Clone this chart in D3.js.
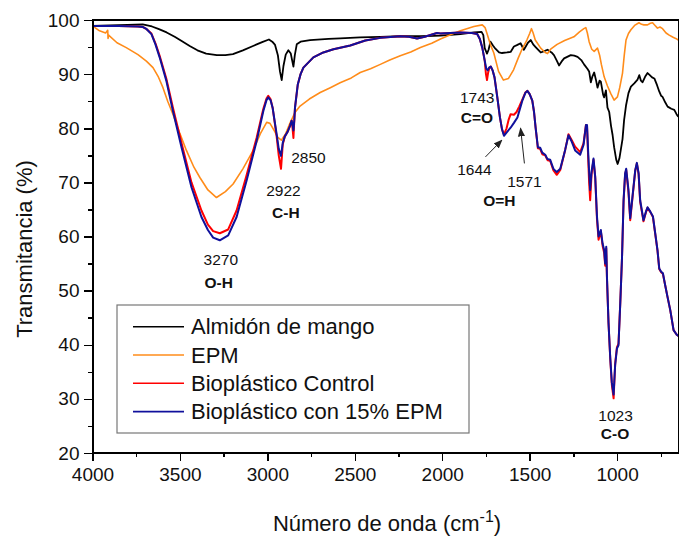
<!DOCTYPE html>
<meta charset="utf-8">
<style>
    body { margin: 0; background: #fff; }
    svg { font-family: "Liberation Sans", Arial, sans-serif; }
    .axis path, .axis line { fill: none; stroke: #000; stroke-width: 1.5; shape-rendering: crispEdges; }
    .axis text { fill: #111; font-size: 19px; }
    .peak { fill: #111; font-size: 15.5px; }
    .peak.bold { font-weight: bold; }
</style>
<body>
<script src="https://d3js.org/d3.v7.min.js"></script>
<script>

    // ticks
    var xTicks = [4000, 3500, 3000, 2500, 2000, 1500, 1000];
    var xMinor = [3750, 3250, 2750, 2250, 1750, 1250, 750];
    var yTicks = [20, 30, 40, 50, 60, 70, 80, 90, 100];
    var yMinor = [25, 35, 45, 55, 65, 75, 85, 95];

    var seriesNames = ["Almidón de mango", "EPM", "Bioplástico Control", "Bioplástico con 15% EPM"];
    var seriesColors = ["#000000", "#ff8c1a", "#ff0000", "#10109c"];

    // [numero de onda, transmitancia]
    var almidon = [
        [4000, 98.9], [3900, 99.0], [3800, 99.1], [3713, 99.2], [3660, 98.8], [3620, 98.3], [3576, 97.7], [3530, 96.9],
        [3490, 96.1], [3444, 95.2], [3400, 94.4], [3350, 93.8], [3289, 93.5], [3240, 93.5], [3197, 93.7], [3140, 94.4],
        [3082, 95.2], [3030, 95.9], [2991, 96.4], [2972, 96.0], [2956, 95.4], [2940, 93.5], [2928, 90.5], [2918, 88.9],
        [2908, 91.5], [2895, 93.6], [2880, 94.4], [2866, 93.8], [2858, 92.5], [2851, 91.4], [2843, 93.5], [2832, 95.5],
        [2810, 96.0], [2756, 96.3], [2650, 96.5], [2584, 96.6], [2470, 96.8], [2354, 96.9], [2240, 97.0], [2125, 97.0],
        [2010, 97.1], [1896, 97.4], [1819, 97.7], [1775, 97.8], [1765, 97.2], [1757, 94.8], [1744, 93.8], [1735, 94.5],
        [1724, 96.0], [1710, 95.3], [1696, 94.7], [1675, 94.0], [1658, 93.9], [1630, 94.0], [1609, 94.1], [1590, 95.1],
        [1570, 95.4], [1552, 95.7], [1533, 94.5], [1510, 95.8], [1494, 96.3], [1480, 95.5], [1466, 95.0], [1437, 94.0],
        [1420, 94.2], [1398, 94.5], [1375, 94.0], [1361, 93.5], [1345, 92.5], [1332, 91.6], [1318, 92.3], [1303, 92.9],
        [1265, 93.5], [1245, 93.4], [1226, 93.2], [1205, 92.6], [1189, 91.8], [1170, 91.0], [1160, 90.5], [1150, 88.5],
        [1141, 89.6], [1131, 90.3], [1120, 88.8], [1112, 87.5], [1100, 88.8], [1093, 88.6], [1080, 86.2], [1074, 85.7],
        [1064, 87.0], [1055, 83.8], [1045, 83.0], [1035, 80.5], [1026, 78.8], [1017, 76.5], [1005, 74.2], [997, 73.4],
        [987, 74.4], [978, 76.2], [969, 78.0], [960, 81.5], [949, 84.2], [935, 86.5], [921, 87.7], [902, 88.3],
        [883, 89.0], [873, 89.8], [864, 88.8], [854, 88.5], [840, 89.5], [826, 90.2], [816, 89.9], [800, 89.4],
        [787, 89.2], [772, 88.0], [759, 86.8], [748, 86.0], [740, 85.8], [725, 84.8], [711, 84.0], [690, 83.6],
        [673, 83.4], [660, 82.6], [650, 82.1]
    ];

    var epm = [
        [4000, 98.9], [3960, 98.0], [3925, 97.6], [3913, 98.1], [3911, 96.6], [3908, 97.2], [3860, 95.8], [3807, 94.9],
        [3740, 93.6], [3692, 92.4], [3654, 91.2], [3625, 89.6], [3597, 87.5], [3570, 85.0], [3540, 82.6], [3500, 79.0],
        [3463, 75.9], [3420, 72.8], [3386, 70.9], [3340, 68.6], [3291, 67.2], [3240, 68.3], [3196, 69.7], [3140, 72.5],
        [3081, 75.9], [3040, 79.0], [3004, 81.1], [2985, 80.9], [2960, 79.5], [2940, 78.3], [2920, 77.8], [2895, 79.0],
        [2870, 81.0], [2842, 82.9], [2813, 84.1], [2760, 85.4], [2698, 86.6], [2640, 87.5], [2584, 88.4], [2520, 89.3],
        [2469, 90.3], [2410, 91.0], [2354, 91.8], [2300, 92.6], [2240, 93.4], [2180, 94.1], [2125, 94.9], [2060, 95.7],
        [2010, 96.5], [1950, 97.3], [1896, 98.0], [1819, 98.8], [1771, 99.1], [1755, 98.6], [1744, 97.5], [1725, 95.5],
        [1705, 93.9], [1678, 90.5], [1650, 88.9], [1621, 89.2], [1592, 90.8], [1565, 93.0], [1545, 94.5], [1516, 96.3],
        [1500, 97.5], [1490, 98.4], [1480, 97.6], [1468, 96.3], [1437, 94.8], [1411, 94.0], [1398, 93.8], [1380, 94.6],
        [1343, 95.5], [1300, 96.2], [1247, 96.9], [1215, 97.8], [1190, 98.4], [1179, 98.6], [1170, 97.6], [1160, 96.0],
        [1145, 94.6], [1131, 94.2], [1112, 94.8], [1100, 93.5], [1090, 91.8], [1074, 89.5], [1055, 87.8], [1036, 86.4],
        [1017, 85.2], [998, 85.8], [985, 87.5], [969, 90.2], [959, 93.5], [949, 96.3], [935, 97.5], [921, 98.2],
        [900, 99.0], [875, 99.5], [860, 99.2], [847, 99.1], [826, 99.1], [810, 99.4], [797, 99.5], [783, 99.0],
        [769, 98.5], [755, 98.7], [740, 98.4], [720, 97.6], [702, 97.2], [680, 96.8], [665, 96.6], [650, 96.3]
    ];

    var bioControl = [
        [4000, 98.9], [3850, 98.9], [3740, 98.8], [3711, 98.7], [3690, 98.3], [3663, 97.5], [3640, 95.7], [3616, 93.4],
        [3578, 89.2], [3540, 83.8], [3491, 77.3], [3434, 70.0], [3377, 64.8], [3340, 62.2], [3310, 61.0], [3272, 60.6],
        [3224, 61.3], [3176, 64.8], [3119, 71.3], [3061, 78.3], [3023, 83.6], [3005, 85.5], [2995, 86.0], [2982, 85.4],
        [2970, 83.8], [2947, 78.5], [2935, 75.0], [2922, 72.5], [2912, 77.0], [2900, 78.5], [2885, 79.3], [2870, 80.5],
        [2861, 81.4], [2856, 80.0], [2851, 78.2], [2846, 81.5], [2842, 83.8], [2826, 88.1], [2810, 90.0], [2794, 91.2],
        [2737, 93.1], [2680, 94.0], [2622, 94.6], [2526, 95.3], [2440, 96.2], [2354, 96.7], [2240, 97.0], [2190, 96.9],
        [2144, 96.6], [2100, 96.9], [2030, 97.6], [2010, 97.5], [1896, 97.7], [1830, 97.6], [1800, 97.4], [1785, 96.5],
        [1771, 94.9], [1757, 92.5], [1750, 90.0], [1744, 88.9], [1738, 90.2], [1730, 91.2], [1722, 91.4], [1712, 90.7],
        [1701, 89.4], [1685, 85.7], [1670, 82.0], [1658, 79.8], [1647, 78.8], [1632, 80.0], [1620, 81.6], [1609, 82.6],
        [1590, 82.5], [1575, 83.0], [1560, 84.0], [1542, 85.3], [1525, 86.6], [1513, 86.9], [1500, 86.3], [1485, 85.1],
        [1475, 83.0], [1466, 80.1], [1453, 76.3], [1440, 76.2], [1428, 75.2], [1411, 75.0], [1398, 74.1], [1383, 74.0],
        [1364, 72.2], [1345, 71.4], [1325, 72.3], [1297, 76.0], [1278, 78.9], [1259, 77.8], [1240, 76.6], [1211, 75.6],
        [1192, 77.2], [1178, 80.6], [1172, 80.4], [1166, 75.0], [1160, 70.0], [1154, 66.7], [1146, 71.5], [1135, 74.2],
        [1125, 70.8], [1115, 63.2], [1106, 59.4], [1093, 61.0], [1083, 58.3], [1074, 57.0], [1068, 54.6], [1062, 57.8],
        [1058, 52.3], [1049, 44.0], [1039, 37.3], [1030, 32.6], [1020, 30.1], [1011, 36.5], [1001, 39.5], [992, 40.2],
        [982, 47.6], [972, 56.0], [963, 66.5], [954, 71.5], [948, 72.3], [935, 68.2], [925, 63.0], [910, 67.8],
        [896, 72.2], [887, 73.5], [877, 71.5], [868, 66.4], [849, 62.8], [835, 64.5], [826, 65.3], [810, 64.5],
        [795, 63.6], [782, 60.5], [769, 57.4], [759, 54.0], [748, 53.4], [738, 53.1], [725, 51.0], [712, 48.9],
        [696, 46.4], [677, 42.7], [660, 41.9], [650, 41.6]
    ];

    var bio15 = [
        [4000, 98.9], [3850, 98.9], [3740, 98.8], [3711, 98.7], [3690, 98.3], [3663, 97.4], [3640, 95.5], [3616, 93.1],
        [3578, 88.8], [3540, 83.2], [3491, 76.5], [3434, 69.1], [3377, 63.6], [3340, 61.2], [3310, 59.8], [3272, 59.3],
        [3224, 60.2], [3176, 63.6], [3119, 70.3], [3061, 77.7], [3023, 83.2], [3005, 85.2], [2995, 85.7], [2982, 85.2],
        [2970, 83.8], [2947, 78.9], [2935, 76.2], [2922, 74.9], [2912, 77.3], [2900, 78.5], [2885, 79.3], [2870, 80.5],
        [2861, 81.4], [2856, 80.6], [2851, 79.6], [2846, 81.5], [2842, 83.8], [2826, 88.1], [2810, 90.0], [2794, 91.2],
        [2737, 93.1], [2680, 94.0], [2622, 94.6], [2526, 95.3], [2440, 96.2], [2354, 96.7], [2240, 97.0], [2190, 96.9],
        [2144, 96.6], [2100, 96.9], [2030, 97.6], [2010, 97.5], [1896, 97.7], [1830, 97.6], [1800, 97.4], [1785, 96.5],
        [1771, 94.9], [1757, 92.5], [1748, 91.0], [1740, 90.7], [1732, 91.2], [1722, 91.4], [1712, 90.7], [1701, 89.4],
        [1685, 85.7], [1670, 82.0], [1658, 79.8], [1647, 78.6], [1630, 79.3], [1609, 80.1], [1590, 81.0], [1570, 82.0],
        [1542, 85.1], [1525, 86.5], [1513, 86.9], [1500, 86.3], [1485, 85.1], [1475, 83.0], [1466, 80.1], [1453, 76.5],
        [1440, 76.4], [1428, 75.5], [1411, 75.1], [1398, 74.3], [1383, 74.2], [1364, 72.5], [1345, 71.9], [1325, 72.5],
        [1297, 76.0], [1278, 78.7], [1259, 77.5], [1240, 75.9], [1211, 75.1], [1192, 76.9], [1178, 80.6], [1172, 80.6],
        [1166, 76.0], [1160, 72.0], [1154, 68.6], [1146, 72.0], [1135, 74.4], [1125, 71.0], [1115, 63.7], [1106, 60.0],
        [1093, 61.2], [1083, 58.7], [1074, 57.5], [1068, 55.0], [1062, 58.1], [1058, 52.6], [1049, 44.0], [1039, 37.5],
        [1030, 33.0], [1020, 30.8], [1011, 36.3], [1001, 39.3], [992, 39.9], [982, 47.6], [972, 56.0], [963, 66.7],
        [954, 71.7], [948, 72.5], [935, 68.6], [925, 63.4], [910, 68.0], [896, 72.3], [887, 73.6], [877, 71.7],
        [868, 66.7], [849, 63.0], [835, 64.6], [826, 65.4], [810, 64.6], [795, 63.7], [782, 60.6], [769, 57.5],
        [759, 54.1], [748, 53.5], [738, 53.2], [725, 51.0], [712, 48.9], [696, 46.4], [677, 42.7], [660, 41.9],
        [650, 41.6]
    ];

    // etiquetas de picos [texto, numero de onda, transmitancia, negrita]
    var peakLabels = [
        ["3270", 3266, 55.7, false], ["O-H", 3278, 51.6, true],
        ["2922", 2908, 68.5, false], ["C-H", 2894, 64.4, true],
        ["2850", 2765, 74.7, false],
        ["1743", 1800, 85.7, false], ["C=O", 1802, 82.0, true],
        ["1644", 1816, 72.4, false], ["1571", 1530, 70.1, false], ["O=H", 1673, 66.6, true],
        ["1023", 1009, 27.0, false], ["C-O", 1012, 23.7, true]
    ];

    // flechas [desde, hasta]
    var peakArrows = [
        [[1753, 74.7], [1659, 77.8]],
        [[1530, 73.5], [1552, 80.0]]
    ];

    var width = 688, height = 537;
    var plot = { left: 92.5, right: 678.3, top: 20, bottom: 453 };

    var x = d3.scaleLinear().domain([4000, 650]).range([plot.left, plot.right]);
    var y = d3.scaleLinear().domain([20, 100]).range([plot.bottom, plot.top]);

    var svg = d3.select("body").append("svg")
        .attr("width", width)
        .attr("height", height);

    svg.append("rect").attr("width", width).attr("height", height).attr("fill", "#fff");

    svg.append("defs").append("clipPath").attr("id", "clip")
        .append("rect")
        .attr("x", plot.left).attr("y", plot.top)
        .attr("width", plot.right - plot.left).attr("height", plot.bottom - plot.top);

    // lineas
    var line = d3.line()
        .x(function (d) { return x(d[0]); })
        .y(function (d) { return y(d[1]); });

    var allSeries = [almidon, epm, bioControl, bio15];
    var widths = [1.8, 1.6, 2, 2];

    svg.append("g").attr("clip-path", "url(#clip)")
        .selectAll("path")
        .data(allSeries)
        .enter().append("path")
        .attr("d", line)
        .attr("fill", "none")
        .attr("stroke", function (d, i) { return seriesColors[i]; })
        .attr("stroke-width", function (d, i) { return widths[i]; })
        .attr("stroke-linejoin", "round");

    // ejes
    svg.append("g")
        .attr("class", "axis")
        .attr("transform", "translate(0," + plot.bottom + ")")
        .call(d3.axisBottom(x).tickValues(xTicks).tickSize(8).tickSizeOuter(0).tickPadding(7).tickFormat(d3.format("d")));

    svg.append("g")
        .attr("class", "axis")
        .attr("transform", "translate(0," + plot.bottom + ")")
        .call(d3.axisBottom(x).tickValues(xMinor).tickSize(4).tickFormat(""))
        .select(".domain").remove();

    svg.append("g")
        .attr("class", "axis")
        .attr("transform", "translate(" + plot.left + ",0)")
        .call(d3.axisLeft(y).tickValues(yTicks).tickSize(9).tickSizeOuter(0).tickPadding(4));

    svg.append("g")
        .attr("class", "axis")
        .attr("transform", "translate(" + plot.left + ",0)")
        .call(d3.axisLeft(y).tickValues(yMinor).tickSize(5).tickFormat(""))
        .select(".domain").remove();

    // marco
    svg.append("rect")
        .attr("x", plot.left).attr("y", plot.top)
        .attr("width", plot.right - plot.left).attr("height", plot.bottom - plot.top)
        .attr("fill", "none").attr("stroke", "#000").attr("stroke-width", 1.5)
        .attr("shape-rendering", "crispEdges");

    // titulos
    svg.append("text")
        .attr("transform", "rotate(-90)")
        .attr("x", -249).attr("y", 32)
        .attr("text-anchor", "middle")
        .style("font-size", "22px").style("fill", "#111")
        .text("Transmitancia (%)");

    var xt = svg.append("text")
        .attr("x", 387).attr("y", 531)
        .attr("text-anchor", "middle")
        .style("font-size", "22px").style("fill", "#111");
    xt.append("tspan").text("Número de onda (cm");
    xt.append("tspan").attr("dy", -9).style("font-size", "16px").text("-1");
    xt.append("tspan").attr("dy", 9).text(")");

    // etiquetas
    svg.selectAll(".peak")
        .data(peakLabels)
        .enter().append("text")
        .attr("class", function (d) { return d[3] ? "peak bold" : "peak"; })
        .attr("x", function (d) { return x(d[1]); })
        .attr("y", function (d) { return y(d[2]); })
        .attr("dy", "0.36em")
        .attr("text-anchor", "middle")
        .text(function (d) { return d[0]; });

    svg.select("defs").append("marker")
        .attr("id", "arrow")
        .attr("viewBox", "0 0 10 10")
        .attr("refX", 9).attr("refY", 5)
        .attr("markerWidth", 9).attr("markerHeight", 9)
        .attr("markerUnits", "userSpaceOnUse")
        .attr("orient", "auto")
        .append("path").attr("d", "M0,1L10,5L0,9Z").attr("fill", "#222");

    svg.selectAll(".arrow")
        .data(peakArrows)
        .enter().append("line")
        .attr("class", "arrow")
        .attr("x1", function (d) { return x(d[0][0]); })
        .attr("y1", function (d) { return y(d[0][1]); })
        .attr("x2", function (d) { return x(d[1][0]); })
        .attr("y2", function (d) { return y(d[1][1]); })
        .attr("stroke", "#222").attr("stroke-width", 1)
        .attr("marker-end", "url(#arrow)");

    // leyenda
    var legend = svg.append("g").attr("transform", "translate(117,305)");

    legend.append("rect")
        .attr("width", 352).attr("height", 128)
        .attr("fill", "#fff").attr("stroke", "#777").attr("stroke-width", 1.2);

    var rows = legend.selectAll(".row")
        .data(seriesNames)
        .enter().append("g")
        .attr("class", "row")
        .attr("transform", function (d, i) { return "translate(0," + (21.7 + i * 28.3) + ")"; });

    rows.append("line")
        .attr("x1", 16).attr("x2", 67)
        .attr("stroke", function (d, i) { return seriesColors[i]; })
        .attr("stroke-width", 1.6);

    rows.append("text")
        .attr("x", 74).attr("dy", "0.35em")
        .style("font-size", "22px").style("fill", "#111")
        .text(function (d) { return d; });

</script>
</body>
